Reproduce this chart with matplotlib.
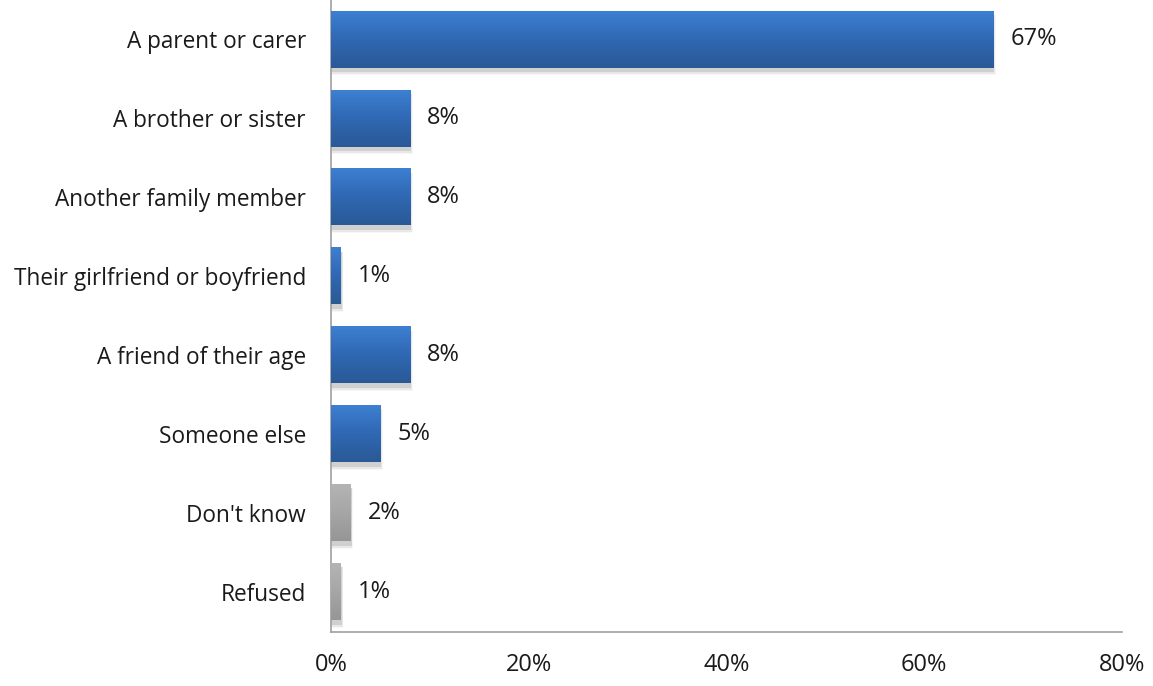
import numpy as np
import matplotlib.pyplot as plt
from matplotlib.colors import LinearSegmentedColormap
from matplotlib.patches import Rectangle

categories = ['A parent or carer', 'A brother or sister', 'Another family member',
              'Their girlfriend or boyfriend', 'A friend of their age', 'Someone else',
              "Don't know", 'Refused']
values = [67, 8, 8, 1, 8, 5, 2, 1]
is_other = [False, False, False, False, False, False, True, True]
x_ticks = [0, 20, 40, 60, 80]

plt.rcParams['font.family'] = ['Open Sans', 'DejaVu Sans']

blue_cmap = LinearSegmentedColormap.from_list('blue', ['#3d7fd1', '#2f68b3', '#2a5996'])
grey_cmap = LinearSegmentedColormap.from_list('grey', ['#b4b4b4', '#a6a6a6', '#969696'])

fig = plt.figure(figsize=(11.53, 6.86), dpi=100)
ax = fig.add_axes([0.287, 0.079, 0.686, 0.921])

y = np.arange(len(categories))
bars = ax.barh(y, values, height=0.71, color='none', zorder=2)

grad = np.linspace(0, 1, 64).reshape(-1, 1)
for bar, other in zip(bars, is_other):
    x0, y0 = bar.get_x(), bar.get_y()
    w, h = bar.get_width(), bar.get_height()
    # soft drop shadow, offset right and down
    for k, a in enumerate([0.10, 0.06, 0.03]):
        off = 0.10 + k * 0.08
        ax.add_patch(Rectangle((x0, y0 + 0.04), w + off, h + 0.02 + k * 0.02,
                               color='black', alpha=a, lw=0, zorder=1))
    cmap = grey_cmap if other else blue_cmap
    ax.imshow(grad, cmap=cmap, aspect='auto', extent=(x0, x0 + w, y0 + h, y0),
              zorder=3, interpolation='bilinear')

for yi, v in zip(y, values):
    ax.text(v + 1.7, yi, f'{v}%', va='center', ha='left', fontsize=17, color='#1a1a1a', zorder=4)

ax.set_xlim(0, 80)
ax.set_ylim(len(categories) - 0.5, -0.5)
ax.set_yticks(y)
ax.set_yticklabels(categories, fontsize=16.3, color='#1a1a1a')
ax.set_xticks(x_ticks)
ax.set_xticklabels([f'{t}%' for t in x_ticks], fontsize=17, color='#1a1a1a')
ax.tick_params(axis='both', length=0)
ax.tick_params(axis='x', pad=15)
ax.tick_params(axis='y', pad=18)

for side in ['top', 'right']:
    ax.spines[side].set_visible(False)
for side in ['left', 'bottom']:
    ax.spines[side].set_color('#a0a0a0')
    ax.spines[side].set_linewidth(1.2)

fig.savefig('out.png', dpi=100, facecolor='white')
